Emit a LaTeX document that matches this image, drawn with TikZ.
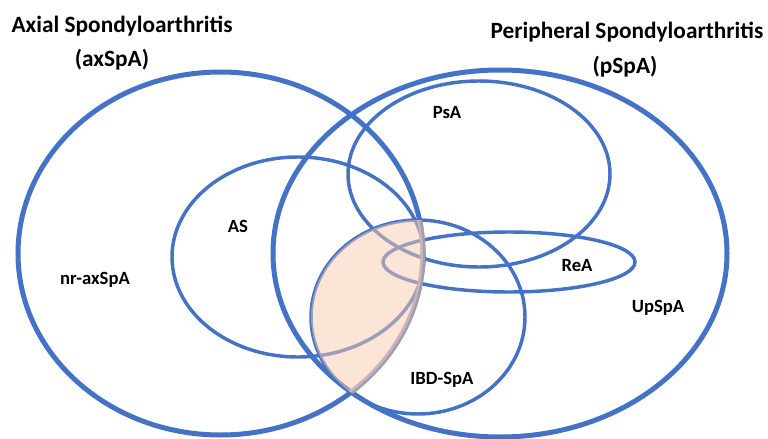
\documentclass[tikz,border=0pt]{standalone}
\usepackage{fontspec}
\setmainfont{Carlito}
\definecolor{spblue}{RGB}{68, 114, 196}
\definecolor{sppeach}{RGB}{248, 203, 173}

\begin{document}
\begin{tikzpicture}[
    x=0.75pt, y=-0.75pt,
    outer/.style={draw=spblue, line width=3.75pt},
    inner/.style={draw=spblue, line width=2.6pt},
    lens/.style={fill=sppeach, fill opacity=0.5},
    heading/.style={font=\fontsize{17.5}{21}\selectfont\bfseries, inner sep=0pt},
    setname/.style={font=\fontsize{14}{17}\selectfont\bfseries, inner sep=0pt},
]
    \useasboundingbox (0,0) rectangle (768,439);

    % Centres of the sets
    \coordinate (axc) at (220.5,253.5);
    \coordinate (pc) at (500,253.5);
    \coordinate (asc) at (298,257);
    \coordinate (psac) at (479,174);
    \coordinate (reac) at (509,262);
    \coordinate (ibdc) at (418,317);

    % Axial and peripheral SpA
    \draw[outer] (axc) ellipse [x radius=202.5, y radius=181.5];
    \draw[outer] (pc) ellipse [x radius=227, y radius=183.5];

    % Subsets
    \draw[inner] (asc) ellipse [x radius=126, y radius=100];
    \draw[inner] (psac) ellipse [x radius=131, y radius=93];
    \draw[inner] (reac) ellipse [x radius=126, y radius=30];
    \draw[inner] (ibdc) ellipse [x radius=107, y radius=97];

    % Overlap of IBD-SpA with axSpA
    \begin{scope}
        \clip (ibdc) ellipse [x radius=107, y radius=97];
        \fill[lens] (axc) ellipse [x radius=202.5, y radius=181.5];
        \draw[sppeach, draw opacity=0.5, line width=3.75pt] (axc) ellipse [x radius=202.5, y radius=181.5];
    \end{scope}

    % Headings
    \node[heading] (axtitle) at (122,26) {Axial Spondyloarthritis};
    \node[heading] (axabbr) at (112,60) {(axSpA)};
    \node[heading] (ptitle) at (627,32) {Peripheral Spondyloarthritis};
    \node[heading] (pabbr) at (625,67) {(pSpA)};

    % Set names
    \node[setname] (nras) at (95,280) {nr-axSpA};
    \node[setname] (as) at (238,226) {AS};
    \node[setname] (psa) at (447,113) {PsA};
    \node[setname] (rea) at (577,266) {ReA};
    \node[setname] (upspa) at (658,308) {UpSpA};
    \node[setname] (ibd) at (442,380) {IBD-SpA};
\end{tikzpicture}
\end{document}
